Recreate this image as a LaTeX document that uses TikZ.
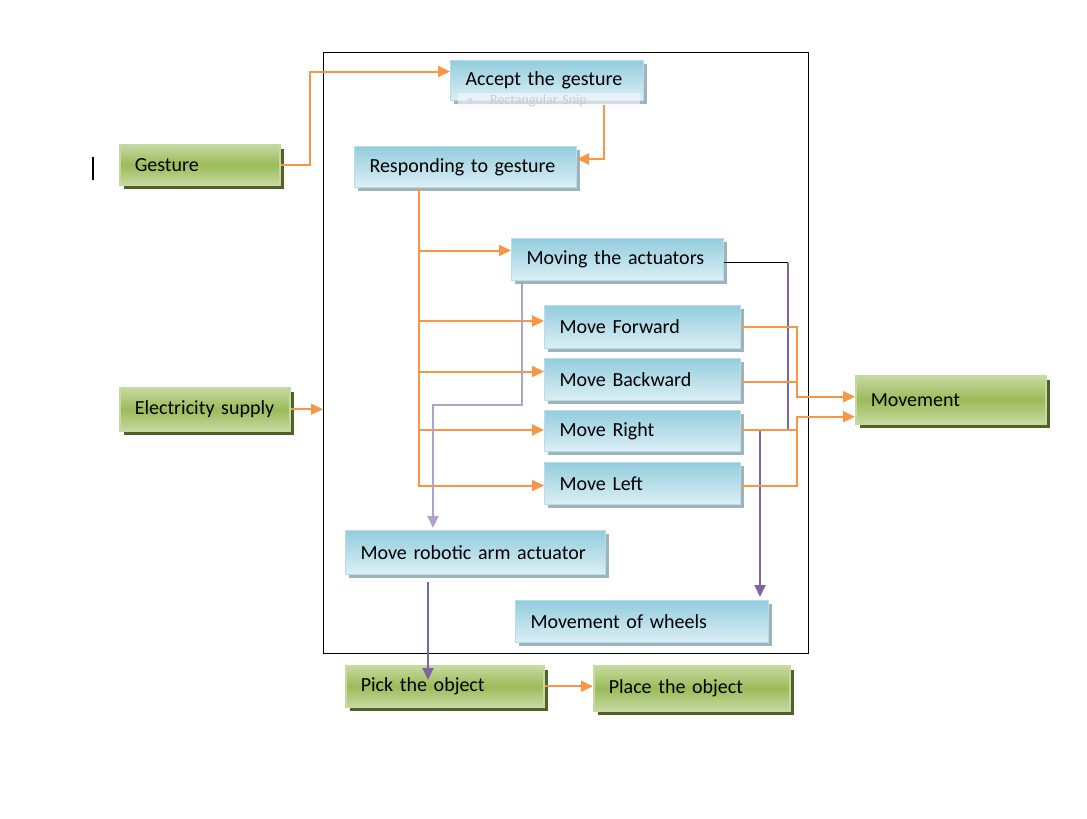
\documentclass[tikz,border=0pt]{standalone}
\usepackage{fontspec}
\setmainfont{Carlito}
\usetikzlibrary{arrows.meta,calc,shadows}

\definecolor{orangeln}{HTML}{F79646}
\definecolor{purpleln}{HTML}{8064A2}
\definecolor{lilacln}{HTML}{B3A2C7}
\definecolor{bluetop}{HTML}{93CDDD}
\definecolor{bluebot}{HTML}{DCEFF5}
\definecolor{blueedge}{HTML}{B7DDE8}
\definecolor{blueshadow}{HTML}{9FB3BA}
\definecolor{greenmid}{HTML}{9BBB59}
\definecolor{greenlight}{HTML}{C6D9A0}
\definecolor{greenshadow}{HTML}{4F6228}

\begin{document}
\begin{tikzpicture}[x=1pt,y=-1pt,
  box/.style={anchor=north west, inner xsep=15pt, inner ysep=0pt, align=left,
    font=\fontsize{20}{24}\selectfont, line width=1pt},
  bluebox/.style={box, draw=blueedge, top color=bluetop, bottom color=bluebot,
    drop shadow={shadow xshift=3pt, shadow yshift=-3pt, fill=blueshadow, opacity=1}},
  greenbox/.style={box, draw=greenlight, line width=1.5pt, top color=greenlight,
    bottom color=greenlight, middle color=greenmid,
    drop shadow={shadow xshift=4pt, shadow yshift=-4pt, fill=greenshadow, opacity=1}},
  oline/.style={draw=orangeln, line width=2pt},
  oarrow/.style={oline, -{Triangle[length=12pt,width=11pt]}},
  parrow/.style={draw=purpleln, line width=2pt, -{Triangle[length=12pt,width=11pt]}},
  lparrow/.style={draw=lilacln, line width=2pt, -{Triangle[length=12pt,width=11pt]}},
]
\useasboundingbox (0,0) rectangle (1087,819);

% outer frame
\node[draw=black, line width=1pt, anchor=north west, minimum width=485pt,
  minimum height=601pt, inner sep=0pt] (frame) at (323,52) {};

% text cursor mark
\draw[line width=2pt] (93,157) -- (93,180);

% process boxes
\node[bluebox, minimum width=193pt, minimum height=40pt, text width=163pt] (accept) at (450,60) {Accept the gesture};

% faint snip label over the lower edge of the first box
\node[anchor=north west, fill=blue!3, fill opacity=0.6, text opacity=1,
  minimum width=182pt, minimum height=16pt, inner ysep=0pt, inner xsep=32pt,
  text=gray!40, font=\fontsize{14}{16}\selectfont, align=left,
  text width=118pt] (snip) at (458,93) {Rectangular Snip};
\fill[gray!30] (470,101) circle (3pt);

\node[bluebox, minimum width=222pt, minimum height=41pt, text width=192pt] (resp) at (354,146) {Responding to gesture};
\node[bluebox, minimum width=212pt, minimum height=42pt, text width=182pt] (moving) at (511,238) {Moving the actuators};
\node[bluebox, minimum width=196pt, minimum height=43pt, text width=166pt] (fwd) at (544,305) {Move Forward};
\node[bluebox, minimum width=196pt, minimum height=42pt, text width=166pt] (bwd) at (544,358) {Move Backward};
\node[bluebox, minimum width=196pt, minimum height=41pt, text width=166pt] (right) at (544,410) {Move Right};
\node[bluebox, minimum width=196pt, minimum height=42pt, text width=166pt] (left) at (544,462) {Move Left};
\node[bluebox, minimum width=260pt, minimum height=44pt, text width=230pt] (arm) at (345,530) {Move robotic arm actuator};
\node[bluebox, minimum width=253pt, minimum height=42pt, text width=223pt] (wheels) at (515,600) {Movement of wheels};

% inputs and outputs
\node[greenbox, minimum width=160pt, minimum height=40pt, text width=130pt] (gesture) at (119,144) {Gesture};
\node[greenbox, minimum width=170pt, minimum height=43pt, text width=140pt] (elec) at (119,387) {Electricity supply};
\node[greenbox, minimum width=190pt, minimum height=48pt, text width=160pt] (movement) at (855,375) {Movement};
\node[greenbox, minimum width=198pt, minimum height=41pt, text width=168pt] (pick) at (345,665) {Pick the object};
\node[greenbox, minimum width=196pt, minimum height=45pt, text width=166pt] (place) at (593,665) {Place the object};

% gesture path
\coordinate (accIn) at ($(accept.west)+(0,-9)$);
\draw[oarrow] (gesture.east) -- ++(29,0) |- (accIn);
\coordinate (accOut) at ($(accept.south east)+(-40,4)$);
\coordinate (respIn) at ($(resp.east)+(0,-8)$);
\draw[oarrow] (accOut) |- (respIn);

% trunk from the response box to the actuator commands
\coordinate (t) at ($(resp.south west)+(65,0)$);
\coordinate (mvIn) at ($(moving.west)+(0,-9)$);
\coordinate (fwIn) at ($(fwd.west)+(0,-6)$);
\coordinate (bwIn) at ($(bwd.west)+(0,-8)$);
\coordinate (rtIn) at ($(right.west)+(0,-1)$);
\coordinate (ltIn) at ($(left.west)+(0,2)$);
\draw[oarrow] (t) |- (ltIn);
\draw[oarrow] (t |- mvIn) -- (mvIn);
\draw[oarrow] (t |- fwIn) -- (fwIn);
\draw[oarrow] (t |- bwIn) -- (bwIn);
\draw[oarrow] (t |- rtIn) -- (rtIn);

% power into the system
\draw[oarrow] (elec.east) -- (elec.east -| frame.west);

% wheel drive path
\coordinate (mvOut) at ($(moving.east)+(0,3)$);
\coordinate (bk) at ($(mvOut)+(64,0)$);
\draw[line width=1pt] (mvOut) -- (bk);
\coordinate (rr) at ($(right.east)+(0,-1)$);
\coordinate (wIn) at ($(wheels.north east)+(-9,-3)$);
\draw[parrow] (bk) -- (bk |- rr) -| (wIn);

% direction commands into movement
\coordinate (m1) at ($(movement.west)+(0,-3)$);
\coordinate (m2) at ($(movement.west)+(0,17)$);
\draw[oarrow] (fwd.east) -- ++(56,0) |- (m1);
\draw[oline] ($(bwd.east)+(0,2)$) -- ++(56,0);
\draw[oarrow] ($(left.east)+(0,2)$) -- ++(56,0) |- (m2);
\draw[oline] ($(right.east)+(0,-1)$) -- ++(56,0);

% arm path
\coordinate (lp1) at ($(moving.south west)+(11,0)$);
\coordinate (armIn) at ($(arm.north west)+(88,-2)$);
\draw[lparrow] (lp1) -- ++(0,124) -| (armIn);
\coordinate (armOut) at ($(arm.south west)+(83,7)$);
\coordinate (pickIn) at ($(pick.north west)+(83,15)$);
\draw[parrow] (armOut) -- (pickIn);

% pick then place
\draw[oarrow] (pick.east) -- (pick.east -| place.west);
\end{tikzpicture}
\end{document}
